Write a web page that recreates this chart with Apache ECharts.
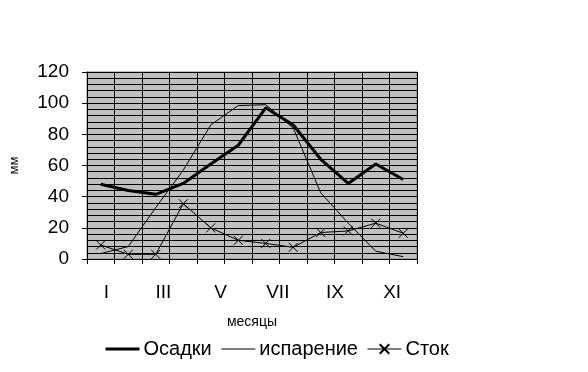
<!DOCTYPE html>
<html><head><meta charset="utf-8">
<script src="https://cdn.jsdelivr.net/npm/echarts@6/dist/echarts.min.js"></script>
<style>html,body{margin:0;padding:0;background:#fff}#c{width:588px;height:372px}</style>
</head><body><div id="c"></div>
<script>
const months = ['I','II','III','IV','V','VI','VII','VIII','IX','X','XI','XII'];
const osadki = [48, 44, 41.5, 48.5, 61, 73, 97, 86, 64, 48.5, 61, 51];
const isparenie = [3.5, 8, 33, 57, 86, 98.5, 99, 84, 42.5, 23, 5, 1.5];
const stok = [9, 3, 3, 35.5, 20, 12, 10, 7.5, 17, 18, 23, 16.5];
const yTicks = [0, 20, 40, 60, 80, 100, 120];

const FONT = 'Liberation Sans, Arial, sans-serif';
const chart = echarts.init(document.getElementById('c'));
chart.setOption({
  animation: false,
  backgroundColor: '#fff',
  grid: [
    {left: 86, right: 171, top: 72, bottom: 113, show: true, backgroundColor: '#c0c0c0', borderColor: '#808080', borderWidth: 1},
    {left: 92, width: 343, top: 72, bottom: 113}
  ],
  xAxis: [
    {type: 'category', gridIndex: 0, data: months, boundaryGap: true,
     name: 'месяцы', nameLocation: 'middle', nameGap: 56,
     nameTextStyle: {fontFamily: FONT, fontSize: 14, color: '#000'},
     axisLine: {lineStyle: {color: '#000', width: 1}},
     axisTick: {show: true, length: 5, lineStyle: {color: '#000'}},
     axisLabel: {show: false},
     splitLine: {show: true, lineStyle: {color: '#000', width: 1}}},
    {type: 'category', gridIndex: 1, data: months, boundaryGap: true,
     axisLine: {show: false}, axisTick: {show: false}, splitLine: {show: false},
     axisLabel: {interval: 1, margin: 24, fontFamily: FONT, fontSize: 19, color: '#000'}}
  ],
  yAxis: [
    {type: 'value', gridIndex: 0, min: yTicks[0], max: yTicks[yTicks.length-1], interval: 20,
     name: 'мм', nameLocation: 'middle', nameGap: 66,
     nameTextStyle: {fontFamily: FONT, fontSize: 13, color: '#000'},
     axisLine: {show: true, lineStyle: {color: '#000'}},
     axisTick: {show: true, length: 5, lineStyle: {color: '#000'}},
     axisLabel: {margin: 18, fontFamily: FONT, fontSize: 19, color: '#000'},
     splitLine: {show: true, lineStyle: {color: '#000', width: 1}},
     minorTick: {show: false, splitNumber: 5},
     minorSplitLine: {show: true, lineStyle: {color: '#000', width: 1}}},
    {type: 'value', gridIndex: 1, min: 0, max: 120, show: false}
  ],
  legend: {
    left: 104, top: 339, padding: 0, itemWidth: 34, itemHeight: 12, itemGap: 9,
    textStyle: {fontFamily: FONT, fontSize: 20, color: '#000', padding: [0, 0, 0, -1]},
    data: [
      {name: 'Осадки', itemStyle: {opacity: 0}, lineStyle: {width: 3, color: '#000'}},
      {name: 'испарение', itemStyle: {opacity: 0}, lineStyle: {width: 1, color: '#000'}},
      {name: 'Сток', lineStyle: {width: 1, color: '#000'}}
    ]
  },
  series: [
    {name: 'Осадки', type: 'line', data: osadki, symbol: 'none', color: '#000',
     lineStyle: {color: '#000', width: 3}},
    {name: 'испарение', type: 'line', data: isparenie, symbol: 'none', color: '#000',
     lineStyle: {color: '#000', width: 1}},
    {name: 'Сток', type: 'line', data: stok, color: '#000',
     symbol: 'path://M0,0L10,10M10,0L0,10', symbolSize: 9,
     itemStyle: {color: 'none', borderColor: '#000', borderWidth: 1},
     lineStyle: {color: '#000', width: 1}}
  ]
});
</script></body></html>
